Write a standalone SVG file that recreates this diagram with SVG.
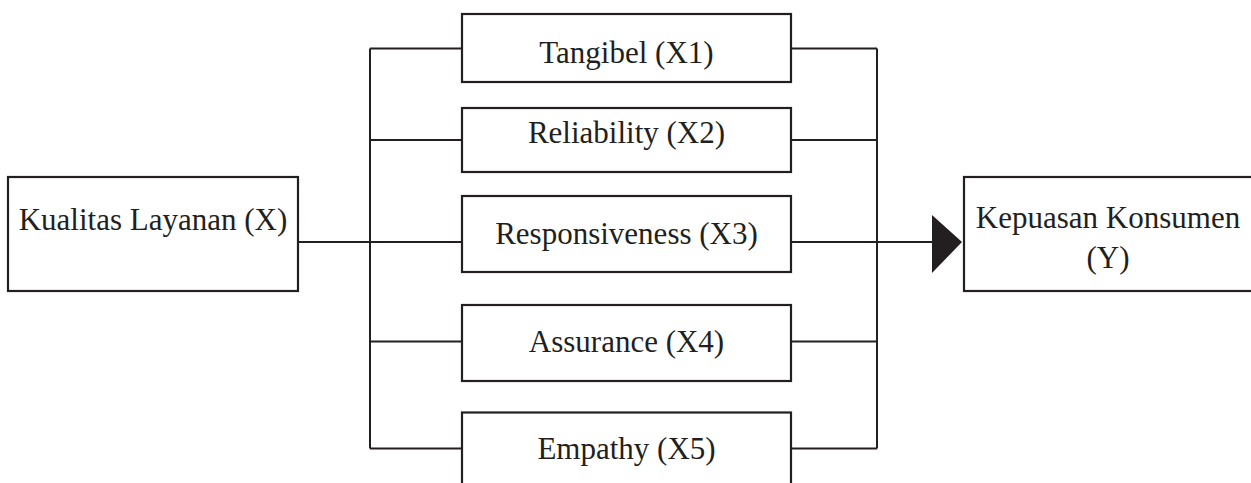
<svg xmlns="http://www.w3.org/2000/svg" width="1251" height="483" viewBox="0 0 1251 483">
<style>
.box{fill:#fff;stroke:#231f20;stroke-width:2.2}
.ln{fill:none;stroke:#231f20;stroke-width:2}
.t{font-family:"Liberation Serif","Times New Roman",serif;font-size:31px;fill:#231f20;text-anchor:middle}
</style>
<rect width="1251" height="483" fill="#fff"/>
<g id="connectors">
<path class="ln" d="M298 242H462M791 242H933"/>
<path class="ln" d="M370 48.5V448.5M370 48.5H462M370 140H462M370 341.5H462M370 448.5H462"/>
<path class="ln" d="M877 48.5V448.5M791 48.5H877M791 140H877M791 341.5H877M791 448.5H877"/>
<polygon points="932,215 962,242 932,273" fill="#231f20"/>
</g>
<g id="nodeX">
<rect class="box" x="8" y="177" width="290" height="114"/>
<text class="t" x="153" y="230">Kualitas Layanan (X)</text>
</g>
<g id="nodeX1">
<rect class="box" x="462" y="14" width="329" height="68"/>
<text class="t" x="626.5" y="63">Tangibel (X1)</text>
</g>
<g id="nodeX2">
<rect class="box" x="462" y="108" width="329" height="64"/>
<text class="t" x="626.5" y="143">Reliability (X2)</text>
</g>
<g id="nodeX3">
<rect class="box" x="462" y="196" width="329" height="76"/>
<text class="t" x="626.5" y="244">Responsiveness (X3)</text>
</g>
<g id="nodeX4">
<rect class="box" x="462" y="305" width="329" height="76"/>
<text class="t" x="626.5" y="352">Assurance (X4)</text>
</g>
<g id="nodeX5">
<rect class="box" x="462" y="412.5" width="329" height="90"/>
<text class="t" x="626.5" y="459">Empathy (X5)</text>
</g>
<g id="nodeY">
<rect class="box" x="964" y="177" width="300" height="114"/>
<text class="t" x="1108" y="228">Kepuasan Konsumen</text>
<text class="t" x="1108" y="268">(Y)</text>
</g>
</svg>
